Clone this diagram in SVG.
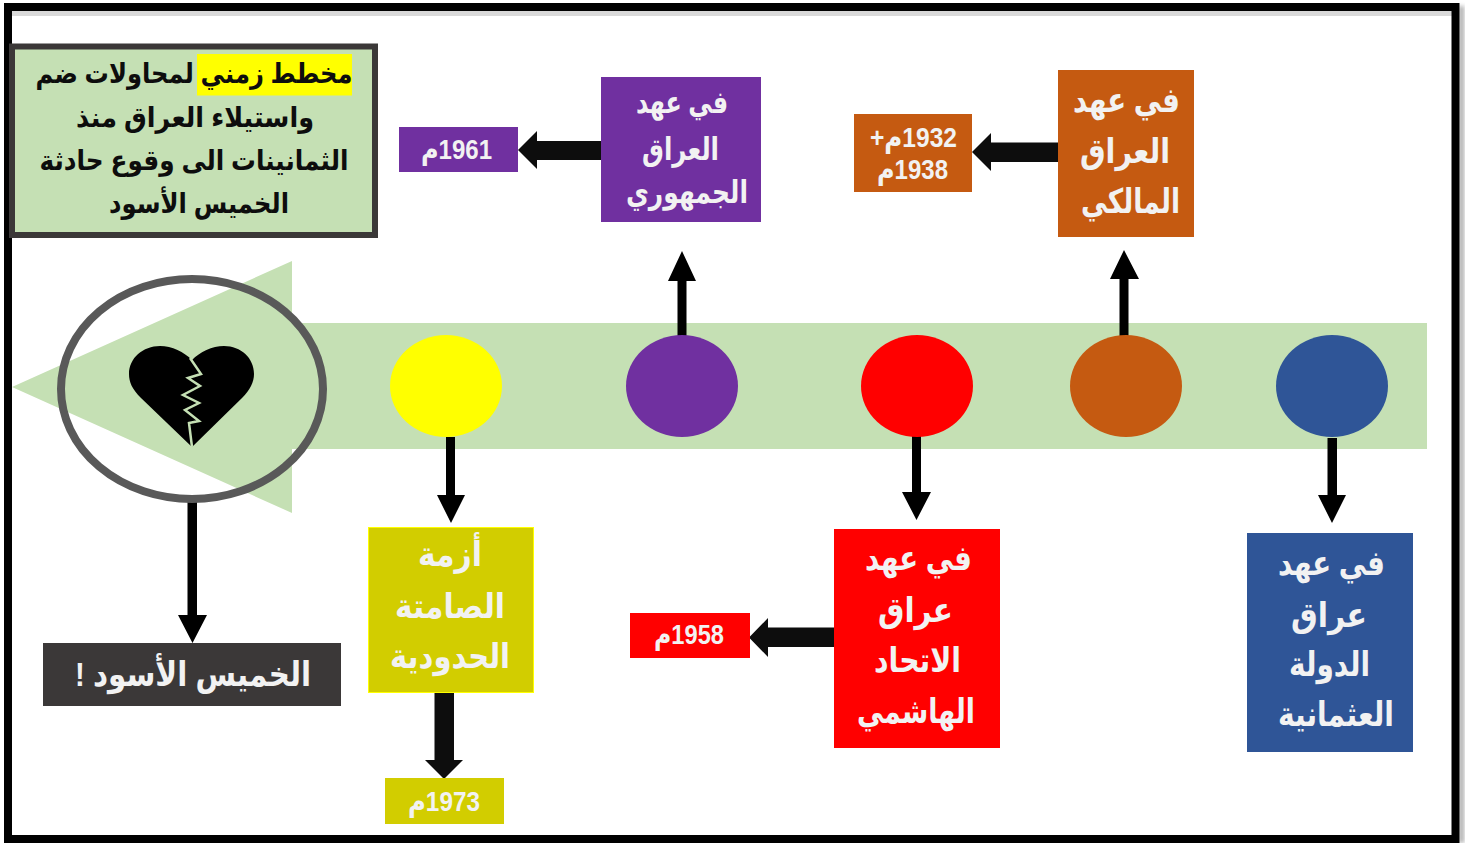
<svg xmlns="http://www.w3.org/2000/svg" width="1466" height="843" viewBox="0 0 1466 843">
<style>
text{font-family:"Liberation Sans","DejaVu Sans",sans-serif;font-weight:700;text-anchor:middle;direction:rtl}
.t{fill:#f2f2f2;font-size:34px}
.p{fill:#f2f2f2;font-size:31px}
.d{fill:#f2f2f2;font-size:28px}
.k{fill:#0d0d0d;font-size:28px}
</style>
<defs>
<filter id="b" x="-5%" y="-5%" width="110%" height="110%"><feGaussianBlur stdDeviation="2"/></filter>
</defs>
<rect width="1466" height="843" fill="#fff"/>
<g id="frame">
<rect x="1459" y="6" width="5" height="837" fill="#aaa" filter="url(#b)"/>
<rect x="12" y="11" width="1440" height="5" fill="#d9d9d9"/>
<rect x="8" y="7" width="1447.500" height="832" fill="none" stroke="#000" stroke-width="8"/>
</g>
<g id="timeline">
<path d="M12 387L292 261V323H1427V449H292V513Z" fill="#c5e0b4"/>
</g>
<g id="connectors" fill="#000">
<path id="c1" d="M187.500 498H197V615H207L192.500 643L178 615H187.500Z"/>
<path id="c2" d="M446 437H455V495H465L451 523L437 495H446Z"/>
<path id="c3" d="M677.500 336H686.500V281H696L682 251L668 281H677.500Z"/>
<path id="c4" d="M912 435H921V492H931L916.500 520L902 492H912Z"/>
<path id="c5" d="M1119.500 336H1128.500V279H1139L1124 250L1110 279H1119.500Z"/>
<path id="c6" d="M1327.500 438H1337V495H1346L1332 523L1318 495H1327.500Z"/>
<g fill="#0d0d0d">
<path id="c7" d="M434.500 693H454V760H463L444 779L425 760H434.500Z"/>
<path id="c8" d="M603 141V160H537V169L518 150L537 131V141Z"/>
<path id="c9" d="M836 627.500V647H768V657L749 637.500L768 618V627.500Z"/>
<path id="c10" d="M1059 142.500V162H991V171L972 152L991 133V142.500Z"/>
</g>
</g>
<g id="n-title">
<rect x="12" y="46.500" width="363" height="188.500" fill="#c5e0b4" stroke="#3b3838" stroke-width="6"/>
<rect x="197" y="54" width="155" height="41.500" fill="#ff0"/>
<text class="k" x="194" y="83" textLength="317" lengthAdjust="spacingAndGlyphs">مخطط زمني لمحاولات ضم</text>
<text class="k" x="195" y="127" textLength="238" lengthAdjust="spacingAndGlyphs">واستيلاء العراق منذ</text>
<text class="k" x="194" y="170" textLength="309" lengthAdjust="spacingAndGlyphs">الثمانينات الى وقوع حادثة</text>
<text class="k" x="199" y="213" textLength="180" lengthAdjust="spacingAndGlyphs">الخميس الأسود</text>
</g>
<g id="n-heart">
<ellipse cx="192" cy="389" rx="131" ry="110" fill="none" stroke="#595959" stroke-width="8"/>
<path d="M192 447L141 398C132 389 129 382 129 374C129 358 143 346 160 346C172 346 184 352 192 360C200 352 212 346 224 346C241 346 254 358 254 374C254 382 250 390 242 398Z" fill="#000"/>
<path d="M190 358L201 374L188 378L200 386L183 395L199 403L185 410L199 421L189 423L192 447" fill="none" stroke="#c5e0b4" stroke-width="2.500"/>
</g>
<g id="n-black">
<rect x="43" y="643" width="298" height="63" fill="#3b3838"/>
<text class="t" x="193" y="686" textLength="236" lengthAdjust="spacingAndGlyphs">الخميس الأسود !</text>
</g>
<g id="n-yellow">
<ellipse cx="446" cy="386" rx="56" ry="51" fill="#ff0"/>
<rect x="368.500" y="527.500" width="165" height="165" fill="#d2cd00" stroke="#ff0" stroke-width="1"/>
<text class="t" x="450" y="566" textLength="64" lengthAdjust="spacingAndGlyphs">أزمة</text>
<text class="t" x="450" y="618" textLength="110" lengthAdjust="spacingAndGlyphs">الصامتة</text>
<text class="t" x="450" y="668" textLength="120" lengthAdjust="spacingAndGlyphs">الحدودية</text>
</g>
<g id="n-1973"><rect x="385" y="778" width="119" height="46" fill="#d2cd00"/><text class="d" x="444" y="811" textLength="72" lengthAdjust="spacingAndGlyphs">1973م</text></g>
<g id="n-purple">
<ellipse cx="682" cy="386" rx="56" ry="51" fill="#7030a0"/>
<rect x="601" y="77" width="160" height="145" fill="#7030a0"/>
<text class="p" x="682" y="113" textLength="92" lengthAdjust="spacingAndGlyphs">في عهد</text>
<text class="p" x="680.500" y="160" textLength="77" lengthAdjust="spacingAndGlyphs">العراق</text>
<text class="p" x="687" y="203" textLength="122" lengthAdjust="spacingAndGlyphs">الجمهوري</text>
</g>
<g id="n-1961"><rect x="399" y="127" width="119" height="45" fill="#7030a0"/><text class="d" x="456.500" y="159" textLength="71" lengthAdjust="spacingAndGlyphs">1961م</text></g>
<g id="n-red">
<ellipse cx="917" cy="386" rx="56" ry="51" fill="#f00"/>
<rect x="834" y="529" width="166" height="219" fill="#f00"/>
<text class="t" x="918.500" y="570" textLength="107" lengthAdjust="spacingAndGlyphs">في عهد</text>
<text class="t" x="915.500" y="622" textLength="75" lengthAdjust="spacingAndGlyphs">عراق</text>
<text class="t" x="917.500" y="672" textLength="87" lengthAdjust="spacingAndGlyphs">الاتحاد</text>
<text class="t" x="916" y="723" textLength="118" lengthAdjust="spacingAndGlyphs">الهاشمي</text>
</g>
<g id="n-1958"><rect x="630" y="613" width="120" height="45" fill="#f00"/><text class="d" x="689" y="644" textLength="70" lengthAdjust="spacingAndGlyphs">1958م</text></g>
<g id="n-orange">
<ellipse cx="1126" cy="386" rx="56" ry="51" fill="#c55a11"/>
<rect x="1058" y="70" width="136" height="167" fill="#c55a11"/>
<text class="t" x="1126.500" y="112" textLength="107" lengthAdjust="spacingAndGlyphs">في عهد</text>
<text class="t" x="1125" y="163" textLength="90" lengthAdjust="spacingAndGlyphs">العراق</text>
<text class="t" x="1130.500" y="213" textLength="99" lengthAdjust="spacingAndGlyphs">المالكي</text>
</g>
<g id="n-1932"><rect x="854" y="114" width="118" height="78" fill="#c55a11"/><text class="d" x="913.500" y="147" textLength="87" lengthAdjust="spacingAndGlyphs">1932م+</text><text class="d" x="912.500" y="179" textLength="71" lengthAdjust="spacingAndGlyphs">1938م</text></g>
<g id="n-blue">
<ellipse cx="1332" cy="386" rx="56" ry="51" fill="#2f5597"/>
<rect x="1247" y="533" width="166" height="219" fill="#2f5597"/>
<text class="t" x="1331.500" y="575" textLength="107" lengthAdjust="spacingAndGlyphs">في عهد</text>
<text class="t" x="1329" y="627" textLength="76" lengthAdjust="spacingAndGlyphs">عراق</text>
<text class="t" x="1329.500" y="676" textLength="81" lengthAdjust="spacingAndGlyphs">الدولة</text>
<text class="t" x="1336" y="726" textLength="116" lengthAdjust="spacingAndGlyphs">العثمانية</text>
</g>
</svg>
